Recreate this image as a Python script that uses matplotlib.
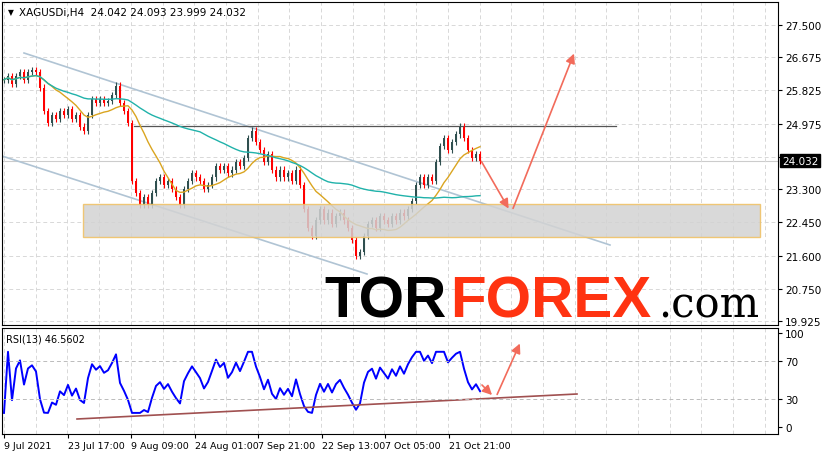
import numpy as np
import pandas as pd
import matplotlib
matplotlib.use("Agg")
import matplotlib.pyplot as plt
from matplotlib.patches import Rectangle

closes = [26.1,26.2,26.0,26.2,26.3,26.1,26.3,26.35,26.3,
          25.9,25.3,25.0,25.2,25.1,25.3,25.2,25.35,25.1,25.2,24.9,24.8,25.2,25.6,25.5,25.6,25.5,25.55,25.7,25.95,25.5,25.3,25.0,
          23.5,23.2,22.9,23.1,22.9,23.2,23.5,23.6,23.4,23.5,23.3,23.1,22.9,23.3,23.5,23.7,23.6,23.5,23.3,23.4,23.6,23.9,23.8,23.9,23.7,23.8,24.0,23.9,
          24.1,24.6,24.8,24.5,24.3,24.0,24.2,23.8,23.6,23.8,23.6,23.7,23.5,23.8,23.4,22.8,22.3,22.1,22.5,22.8,22.5,22.7,22.4,22.6,22.7,22.5,22.3,22.0,
          21.6,21.7,22.1,22.4,22.5,22.3,22.6,22.5,22.4,22.6,22.5,22.7,22.6,22.8,23.0,23.4,23.6,23.4,23.6,23.5,24.0,24.4,24.6,24.3,24.5,24.7,24.9,24.6,24.3,24.1,24.2,24.032]
price_ticks = [19.925, 20.750, 21.600, 22.450, 23.300, 24.125, 24.975, 25.825, 26.675, 27.500]
date_labels = ["9 Jul 2021", "23 Jul 17:00", "9 Aug 09:00", "24 Aug 01:00", "7 Sep 21:00",
               "22 Sep 13:00", "7 Oct 05:00", "21 Oct 21:00"]
rsi_ticks = [0, 30, 70, 100]

W, H = 830, 456
fig = plt.figure(figsize=(8.3, 4.56), dpi=100)
def rect(x0, y0, x1, y1):
    return [x0 / W, 1 - y1 / H, (x1 - x0) / W, (y1 - y0) / H]
ax = fig.add_axes(rect(2, 3, 778, 326))
ar = fig.add_axes(rect(2, 329, 778, 435))

def py(y):
    return 27.5 - (y - 26) * (27.5 - 19.925) / 296.0

c = np.array(closes)
n = len(c)
xs = 2 + 4 * np.arange(n)
opens = np.r_[c[0], c[:-1]]
for x, o, cl in zip(xs, opens, c):
    col = '#ff0000' if cl < o else '#2f4f4f'
    ax.vlines(x, min(o, cl) - 0.08, max(o, cl) + 0.08, color=col, lw=0.8, zorder=3)
    ax.bar(x, max(abs(cl - o), 0.02), bottom=min(o, cl), width=2.6, color=col, zorder=3)
s = pd.Series(c)
ma1 = s.rolling(12, min_periods=1).mean()
ma2 = s.rolling(50, min_periods=1).mean()
ax.plot(xs, ma1, color='#daa520', lw=1, zorder=4)
ax.plot(xs, ma2, color='#20b2aa', lw=1, zorder=4)

ax.set_xlim(0, 776)
ax.set_ylim(py(326), py(3))
ax.add_patch(Rectangle((81, py(238)), 677, py(205) - py(238), facecolor='#d3d3d3', alpha=0.85,
                       edgecolor='#f0c060', lw=1, zorder=5))
ax.plot([22, 608], [py(54), py(246)], color='#b0c4d4', lw=1.2, zorder=2)
ax.plot([0, 365], [py(157), py(275)], color='#b0c4d4', lw=1.2, zorder=2)
ax.plot([132, 614], [py(127), py(127)], color='#555555', lw=0.9, zorder=2)
ax.axhline(c[-1], color='#cccccc', lw=0.8, zorder=1)
akw = dict(arrowstyle='-|>', color='#f26b5b', lw=1.2, mutation_scale=14)
ax.annotate('', xy=(508, py(212)), xytext=(478, py(160)), arrowprops=akw, zorder=6)
ax.annotate('', xy=(573, py(52)), xytext=(510, py(212)), arrowprops=akw, zorder=6)

ax.set_yticks(price_ticks)
ax.yaxis.tick_right()
ax.set_yticklabels(["" if abs(t - c[-1]) < 0.15 else f"{t:.3f}" for t in price_ticks], fontsize=7.5)
ax.set_xticks(2 + 31.7 * np.arange(25))
ax.set_xticklabels([])
ax.tick_params(axis='x', length=0)
ax.tick_params(axis='y', length=3, pad=2)
ax.grid(True, color='#d8d8d8', ls=(0, (4, 3)), lw=0.7)
ax.text(780, c[-1], f"{c[-1]:.3f}", transform=ax.transData, fontsize=7.5, color='white',
        va='center', ha='left', clip_on=False, zorder=10,
        bbox=dict(boxstyle='square,pad=0.15', fc='black', ec='black'))
ax.text(0.022, 0.985, "XAGUSDi,H4  24.042 24.093 23.999 24.032", transform=ax.transAxes,
        fontsize=7.5, va='top')
ax.text(0.008, 0.985, "▼", transform=ax.transAxes, fontsize=5.5, va='top')
lkw = dict(fontsize=42, fontweight='heavy', family='Liberation Sans', zorder=7, va='baseline')
ax.text(322, py(318), "TOR", color='black', **lkw)
ax.text(448, py(318), "FOREX", color='#ff3311', **lkw)
ax.text(656, py(318), ".com", fontsize=30, color='black', zorder=7, family='DejaVu Serif', va='baseline')

d = s.diff().fillna(0)
up = d.clip(lower=0).ewm(alpha=1/5, adjust=False).mean()
dn = (-d.clip(upper=0)).ewm(alpha=1/5, adjust=False).mean()
rsi = 100 - 100 / (1 + up / dn.replace(0, 1e-9))
rsi = rsi.clip(15, 80)
ar.plot(xs, rsi, color='#0000ff', lw=1.4)
ry = lambda y: 100 - (y - 334) * 100 / 94.0
ar.plot([75, 575], [ry(420), ry(395)], color='#a05050', lw=1.2)
ar.annotate('', xy=(492, ry(398)), xytext=(478, ry(384)), arrowprops=akw)
ar.annotate('', xy=(519, ry(342)), xytext=(494, ry(398)), arrowprops=akw)
ar.set_xlim(0, 776)
ar.set_ylim(ry(435), ry(329))
ar.set_yticks(rsi_ticks)
ar.yaxis.tick_right()
ar.tick_params(axis='y', labelsize=7.5, length=3, pad=2)
for t in (30, 70):
    ar.axhline(t, color='#bbbbbb', ls=(0, (4, 3)), lw=0.7)
for x in 2 + 31.7 * np.arange(25):
    ar.axvline(x, color='#d8d8d8', ls=(0, (4, 3)), lw=0.7, zorder=0)
pos = [2 + 63.5 * i for i in range(len(date_labels))]
ar.set_xticks(pos)
ar.set_xticklabels(date_labels, fontsize=6.8, ha='left')
ar.tick_params(axis='x', length=3, pad=2)
ar.text(0.005, 0.95, "RSI(13) 46.5602", transform=ar.transAxes, fontsize=7, va='top')
fig.savefig("out.png", dpi=100)
